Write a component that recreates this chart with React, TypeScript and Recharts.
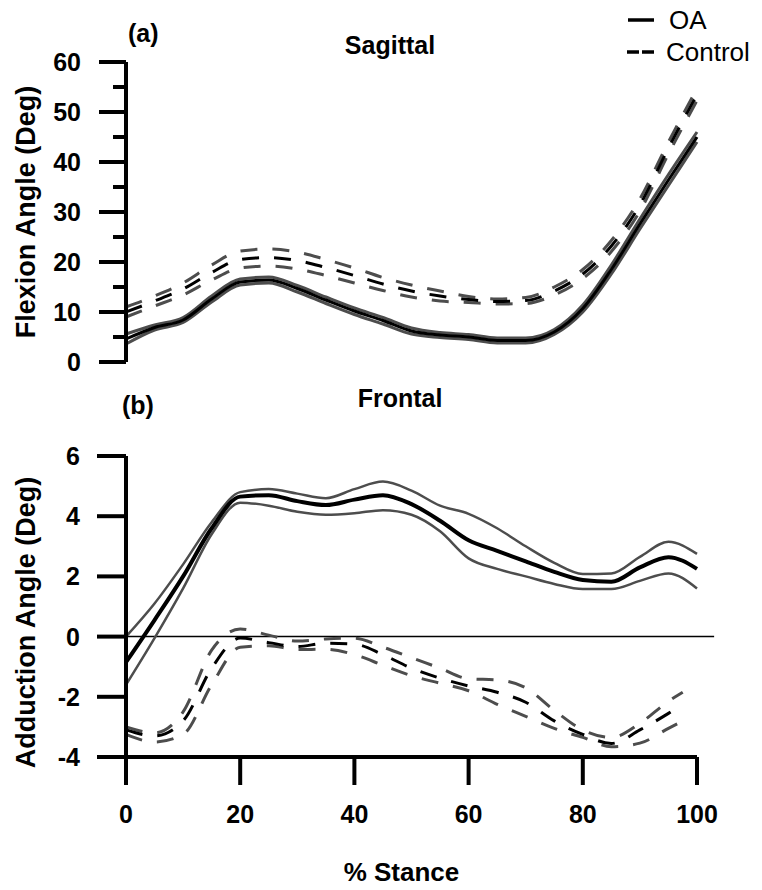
import React from 'react';
import { LineChart, Line, XAxis, YAxis, ReferenceLine } from 'recharts';

// % stance grid used by most curves
const stance = [0, 5, 10, 15, 20, 25, 30, 35, 40, 45, 50, 55, 60, 65, 70, 75, 80, 85, 90, 95, 100];
// frontal control curves stop a little before 100%
const stanceFrontalCtrl = [0, 5, 10, 15, 20, 25, 30, 35, 40, 45, 50, 55, 60, 65, 70, 75, 80, 85, 90, 95, 97.5];

// (a) Sagittal - flexion angle
const sagOaMean = [4.6, 6.9, 8.4, 12.6, 16.0, 16.4, 14.7, 12.4, 10.2, 8.3, 6.2, 5.4, 5.0, 4.3, 4.3, 6.0, 10.7, 18.5, 27.6, 36.4, 45.0];
const sagOaUpper = [5.6, 7.4, 8.9, 13.2, 16.6, 17.0, 15.3, 13.0, 10.8, 8.9, 6.8, 5.9, 5.5, 4.8, 4.8, 6.5, 11.4, 19.4, 28.6, 37.5, 46.0];
const sagOaLower = [3.6, 6.4, 7.9, 12.0, 15.4, 15.8, 14.0, 11.7, 9.5, 7.6, 5.6, 4.9, 4.5, 3.8, 3.8, 5.5, 10.0, 17.6, 26.6, 35.3, 44.0];
const sagCtrlMean = [10.0, 12.2, 14.6, 17.9, 20.5, 20.9, 20.3, 18.9, 17.3, 15.6, 14.2, 13.2, 12.5, 12.1, 12.3, 14.2, 17.6, 23.2, 31.4, 42.8, 53.5];
const sagCtrlUpper = [11.0, 13.2, 15.8, 19.4, 22.2, 22.6, 22.0, 20.5, 18.8, 16.9, 15.4, 14.2, 13.1, 12.6, 12.9, 15.0, 18.5, 24.3, 32.6, 44.0, 54.7];
const sagCtrlLower = [9.0, 11.2, 13.4, 16.4, 18.8, 19.2, 18.6, 17.3, 15.8, 14.3, 13.0, 12.2, 11.9, 11.6, 11.7, 13.4, 16.7, 22.1, 30.2, 41.6, 52.3];

// (b) Frontal - adduction angle
const frOaMean = [-0.85, 0.55, 2.0, 3.6, 4.65, 4.7, 4.5, 4.37, 4.55, 4.7, 4.4, 3.85, 3.2, 2.85, 2.5, 2.15, 1.88, 1.82, 2.3, 2.64, 2.25];
const frOaUpper = [0.0, 1.1, 2.4, 3.8, 4.8, 4.9, 4.75, 4.6, 4.9, 5.15, 4.85, 4.35, 4.08, 3.6, 3.0, 2.45, 2.08, 2.1, 2.65, 3.15, 2.75];
const frOaLower = [-1.6, -0.05, 1.6, 3.4, 4.45, 4.35, 4.15, 4.05, 4.1, 4.2, 4.05, 3.5, 2.6, 2.25, 2.0, 1.75, 1.58, 1.58, 1.85, 2.1, 1.6];
const frCtrlMean = [-3.1, -3.3, -2.8, -1.05, -0.05, -0.2, -0.33, -0.22, -0.25, -0.6, -1.05, -1.38, -1.64, -1.85, -2.18, -2.8, -3.25, -3.55, -3.1, -2.55, -2.25];
const frCtrlUpper = [-3.0, -3.2, -2.5, -0.45, 0.25, 0.05, -0.15, -0.08, -0.05, -0.35, -0.7, -1.05, -1.4, -1.44, -1.7, -2.45, -3.1, -3.35, -2.88, -2.15, -1.85];
const frCtrlLower = [-3.25, -3.5, -3.25, -1.6, -0.35, -0.3, -0.43, -0.42, -0.6, -0.95, -1.3, -1.55, -1.8, -2.25, -2.65, -3.05, -3.35, -3.66, -3.54, -3.05, -2.8];

const flexTicks = [0, 5, 10, 15, 20, 25, 30, 35, 40, 45, 50, 55, 60];
const addTicks = [-4, -2, 0, 2, 4, 6];
const stanceTicks = [0, 20, 40, 60, 80, 100];

const toRows = (xs: number[], ys: number[]) => xs.map((pct, i) => ({ pct, v: ys[i] }));

const FONT = '"Liberation Sans", Arial, sans-serif';
const GREY = '#4d4d4d';
const DASH = '17 15';

const FlexionTick = ({ x, y, payload }: any) => {
  const major = payload.value % 10 === 0;
  return (
    <g>
      <line x1={x - (major ? 27 : 13)} x2={x} y1={y} y2={y} stroke="#000" strokeWidth={4} />
      {major && (
        <text x={x - 45} y={y} dy="0.36em" textAnchor="end" fontSize={25} fontWeight="bold" fill="#000">
          {payload.value}
        </text>
      )}
    </g>
  );
};

const AdductionTick = ({ x, y, payload }: any) => (
  <g>
    <line x1={x - 29} x2={x} y1={y} y2={y} stroke="#000" strokeWidth={4} />
    <text x={x - 46} y={y} dy="0.36em" textAnchor="end" fontSize={25} fontWeight="bold" fill="#000">
      {payload.value}
    </text>
  </g>
);

const StanceTick = ({ x, y, payload }: any) => (
  <g>
    <line x1={x} x2={x} y1={y} y2={y + 28} stroke="#000" strokeWidth={4} />
    <text x={x} y={y + 57} dy="0.36em" textAnchor="middle" fontSize={25} fontWeight="bold" fill="#000">
      {payload.value}
    </text>
  </g>
);

const Title = ({ text, x, y, center }: { text: string; x: number; y: number; center?: boolean }) => (
  <div
    style={{
      position: 'absolute',
      left: x,
      top: y,
      transform: center ? 'translate(-50%, -50%)' : 'translate(0, -50%)',
      fontSize: 25,
      fontWeight: 'bold',
      lineHeight: 1,
      whiteSpace: 'nowrap',
    }}
  >
    {text}
  </div>
);

const App = () => {
  return (
    <div style={{ position: 'absolute', left: 0, top: 0, width: 762, height: 890, background: '#fff', fontFamily: FONT, color: '#000' }}>
      {/* (a) Sagittal */}
      <div style={{ position: 'absolute', left: 0, top: 0 }}>
        <LineChart width={762} height={380} margin={{ top: 62, right: 65, bottom: 18, left: 66 }}>
          <XAxis type="number" dataKey="pct" domain={[0, 100]} hide />
          <YAxis
            type="number"
            domain={[0, 60]}
            ticks={flexTicks}
            interval={0}
            tick={FlexionTick}
            tickLine={false}
            tickSize={0}
            tickMargin={0}
            width={60}
            axisLine={{ stroke: '#000', strokeWidth: 4 }}
            label={{ value: 'Flexion Angle (Deg)', angle: -90, position: 'center', dx: -71, fontSize: 27, fontWeight: 'bold', fill: '#000' }}
          />
          <Line data={toRows(stance, sagCtrlUpper)} dataKey="v" type="monotone" stroke={GREY} strokeWidth={3} strokeDasharray={DASH} dot={false} isAnimationActive={false} />
          <Line data={toRows(stance, sagCtrlLower)} dataKey="v" type="monotone" stroke={GREY} strokeWidth={3} strokeDasharray={DASH} dot={false} isAnimationActive={false} />
          <Line data={toRows(stance, sagCtrlMean)} dataKey="v" type="monotone" stroke="#000" strokeWidth={3} strokeDasharray={DASH} dot={false} isAnimationActive={false} />
          <Line data={toRows(stance, sagOaUpper)} dataKey="v" type="monotone" stroke={GREY} strokeWidth={3} dot={false} isAnimationActive={false} />
          <Line data={toRows(stance, sagOaLower)} dataKey="v" type="monotone" stroke={GREY} strokeWidth={3} dot={false} isAnimationActive={false} />
          <Line data={toRows(stance, sagOaMean)} dataKey="v" type="monotone" stroke="#000" strokeWidth={3} dot={false} isAnimationActive={false} />
        </LineChart>
      </div>

      {/* (b) Frontal */}
      <div style={{ position: 'absolute', left: 0, top: 380 }}>
        <LineChart width={762} height={510} margin={{ top: 76, right: 65, bottom: 73, left: 66 }}>
          <XAxis
            type="number"
            dataKey="pct"
            domain={[0, 100]}
            ticks={stanceTicks}
            interval={0}
            tick={StanceTick}
            tickLine={false}
            tickSize={0}
            tickMargin={0}
            height={60}
            axisLine={{ stroke: '#000', strokeWidth: 4 }}
            label={{ value: '% Stance', position: 'center', dx: -10, dy: 85, fontSize: 26, fontWeight: 'bold', fill: '#000' }}
          />
          <YAxis
            type="number"
            domain={[-4, 6]}
            ticks={addTicks}
            interval={0}
            tick={AdductionTick}
            tickLine={false}
            tickSize={0}
            tickMargin={0}
            width={60}
            axisLine={{ stroke: '#000', strokeWidth: 4 }}
            label={{ value: 'Adduction Angle (Deg)', angle: -90, position: 'center', dx: -71, dy: 16, fontSize: 27, fontWeight: 'bold', fill: '#000' }}
          />
          <ReferenceLine segment={[{ x: 0, y: 0 }, { x: 103, y: 0 }]} stroke="#000" strokeWidth={1.5} ifOverflow="visible" />
          <Line data={toRows(stanceFrontalCtrl, frCtrlUpper)} dataKey="v" type="monotone" stroke={GREY} strokeWidth={3} strokeDasharray={DASH} dot={false} isAnimationActive={false} />
          <Line data={toRows(stanceFrontalCtrl, frCtrlLower)} dataKey="v" type="monotone" stroke={GREY} strokeWidth={3} strokeDasharray={DASH} dot={false} isAnimationActive={false} />
          <Line data={toRows(stanceFrontalCtrl, frCtrlMean)} dataKey="v" type="monotone" stroke="#000" strokeWidth={3} strokeDasharray={DASH} dot={false} isAnimationActive={false} />
          <Line data={toRows(stance, frOaUpper)} dataKey="v" type="monotone" stroke={GREY} strokeWidth={2.5} dot={false} isAnimationActive={false} />
          <Line data={toRows(stance, frOaLower)} dataKey="v" type="monotone" stroke={GREY} strokeWidth={2.5} dot={false} isAnimationActive={false} />
          <Line data={toRows(stance, frOaMean)} dataKey="v" type="monotone" stroke="#000" strokeWidth={4} dot={false} isAnimationActive={false} />
        </LineChart>
      </div>

      {/* panel titles */}
      <Title text="(a)" x={128} y={33} />
      <Title text="Sagittal" x={390} y={45} center />
      <Title text="(b)" x={122} y={405} />
      <Title text="Frontal" x={400} y={398} center />

      {/* legend */}
      <svg width={40} height={70} style={{ position: 'absolute', left: 620, top: 0 }}>
        <line x1={8} x2={34} y1={20} y2={20} stroke="#000" strokeWidth={3.5} />
        <line x1={7} x2={34} y1={52} y2={52} stroke="#000" strokeWidth={3.5} strokeDasharray="12 3" />
      </svg>
      <div style={{ position: 'absolute', left: 669, top: 20, transform: 'translate(0, -50%)', fontSize: 26, lineHeight: 1 }}>OA</div>
      <div style={{ position: 'absolute', left: 666, top: 52, transform: 'translate(0, -50%)', fontSize: 26, lineHeight: 1 }}>Control</div>
    </div>
  );
};

export default App;
